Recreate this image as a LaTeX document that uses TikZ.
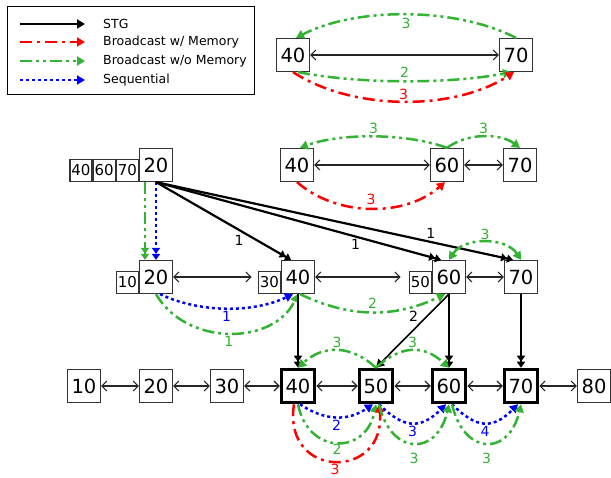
\documentclass[tikz,border=0pt]{standalone}
\usepackage{fontspec}
\setmainfont{DejaVu Sans}
\usepackage{xcolor}
\usetikzlibrary{arrows.meta,positioning}
\definecolor{bgreen}{RGB}{51,178,51}

\begin{document}
\begin{tikzpicture}[x=1pt, y=-1pt, >={Triangle[length=8pt,width=9pt]},
  box/.style={draw=black!80, line width=1.2pt, minimum size=33pt, inner sep=0pt, font=\fontsize{19.5}{19.5}\selectfont},
  sbox/.style={draw=black!80, line width=1.2pt, minimum size=22pt, inner sep=0pt, font=\fontsize{15}{15}\selectfont},
  hot/.style={box, draw=black, line width=3.5pt},
  link/.style={{Straight Barb[length=5pt,width=10pt]}-{Straight Barb[length=5pt,width=10pt]}, line width=1.1pt, black!85},
  stg/.style={line width=2.2pt, ->},
  twin/.style={-{Triangle[length=6pt,width=8pt]Triangle[length=6pt,width=8pt]}},
  mem/.style={red, line width=2.5pt, dash pattern=on 12pt off 5pt on 3pt off 5pt, ->},
  nomem/.style={bgreen, line width=2.5pt, dash pattern=on 12pt off 4pt on 3pt off 4pt on 3pt off 4pt, ->},
  seq/.style={blue, line width=2.5pt, dash pattern=on 3pt off 3pt, ->},
  lbl/.style={font=\fontsize{14}{14}\selectfont, inner sep=2pt},
  key/.style={font=\fontsize{12.5}{12.5}\selectfont, anchor=west, inner sep=0pt}]
\useasboundingbox (0,0) rectangle (611,478);

% legend
\draw[line width=1pt] (7,7) rectangle (254,95);
\coordinate (k1a) at (20,24); \coordinate (k1b) at (85,24);
\coordinate (k2a) at (20,42); \coordinate (k2b) at (85,42);
\coordinate (k3a) at (20,61); \coordinate (k3b) at (85,61);
\coordinate (k4a) at (20,80); \coordinate (k4b) at (85,80);
\draw[stg] (k1a) -- (k1b); \draw[mem] (k2a) -- (k2b);
\draw[nomem] (k3a) -- (k3b); \draw[seq] (k4a) -- (k4b);
\node[key] (kstg) at (103,24) {STG};
\node[key] (kmem) at (103,42) {Broadcast w/ Memory};
\node[key] (knomem) at (103,61) {Broadcast w/o Memory};
\node[key] (kseq) at (103,80) {Sequential};

% 40 -- 70
\node[box] (a40) at (293,55) {40};
\node[box] (a70) at (516,55) {70};
\draw[link] (a40) -- (a70);
\draw[nomem] (a70.north) .. controls +(-60,-31) and +(60,-31) .. ([xshift=3]a40.north) node[lbl, midway, below] {3};
\draw[nomem] ([xshift=5]a40.south) .. controls +(60,12) and +(-60,12) .. ([xshift=-5]a70.south) node[lbl, midway, above] {2};
\draw[mem] (a40.south) .. controls +(60,39) and +(-60,39) .. ([xshift=-2]a70.south) node[lbl, midway, above, inner sep=0.5pt] {3};

% 40 -- 60 -- 70
\node[box] (c40) at (297,165) {40};
\node[box] (c60) at (447,165) {60};
\node[box] (c70) at (520,165) {70};
\draw[link] (c40) -- (c60); \draw[link] (c60) -- (c70);
\draw[nomem] (c60.north) .. controls +(-40,-15) and +(40,-15) .. ([xshift=3]c40.north) node[lbl, midway, above] {3};
\draw[nomem] (c60.north) .. controls +(20,-15) and +(-20,-15) .. (c70.north) node[lbl, midway, above] {3};
\draw[mem] (c40.south) .. controls +(40,35) and +(-40,35) .. ([xshift=-2]c60.south) node[lbl, midway, above] {3};

% source with queue
\node[box] (s20) at (156,165) {20};
\node[sbox, anchor=south east] (s70) at (s20.south west) {70};
\node[sbox, anchor=south east] (s60) at (s70.south west) {60};
\node[sbox, anchor=south east] (s40) at (s60.south west) {40};

% middle row
\node[box] (m20) at (156,277) {20};
\node[sbox, anchor=south east] (m10) at (m20.south west) {10};
\node[box] (m40) at (298,277) {40};
\node[sbox, anchor=south east] (m30) at (m40.south west) {30};
\node[box] (m60) at (449,277) {60};
\node[sbox, anchor=south east] (m50) at (m60.south west) {50};
\node[box] (m70) at (521,277) {70};
\draw[link, shorten >=6pt] (m20.east) -- (m20.east -| m30.west);
\draw[link, shorten >=8pt] (m40.east) -- (m40.east -| m50.west);
\draw[link] (m60) -- (m70);

\draw[nomem, twin] ([xshift=-11]s20.south) -- ([xshift=-11]m20.north);
\draw[seq, twin] (s20.south) -- (m20.north);
\draw[stg, twin] (s20.south) -- ([xshift=-7]m40.north) node[lbl, pos=0.66, below left, inner sep=0.5pt] {1};
\draw[stg, twin] (s20.south) -- ([xshift=-8]m60.north) node[lbl, pos=0.7, below] {1};
\draw[stg, twin] (s20.south) -- ([xshift=-8]m70.north) node[lbl, pos=0.77, above] {1};

\draw[nomem, <->] (m60.north) .. controls +(15,-23) and +(-15,-23) .. (m70.north) node[lbl, midway, above] {3};
\draw[seq] ([xshift=4]m20.south) .. controls +(40,19) and +(-40,19) .. ([xshift=-5]m40.south) node[lbl, midway, below] {1};
\draw[nomem] (m20.south) .. controls +(30,52) and +(-25,52) .. (m40.south) node[lbl, midway, below] {1};
\draw[nomem] ([xshift=2]m40.south) .. controls +(50,24) and +(-50,24) .. ([xshift=-4]m60.south) node[lbl, midway, above] {2};

% bottom row
\node[box] (b10) at (84,386) {10};
\node[box] (b20) at (156,386) {20};
\node[box] (b30) at (227,386) {30};
\node[hot] (b40) at (298,386) {40};
\node[hot] (b50) at (376,386) {50};
\node[hot] (b60) at (449,386) {60};
\node[hot] (b70) at (521,386) {70};
\node[box] (b80) at (594,386) {80};
\draw[link] (b10) -- (b20); \draw[link] (b20) -- (b30); \draw[link] (b30) -- (b40);
\draw[link] (b40) -- (b50); \draw[link] (b50) -- (b60); \draw[link] (b60) -- (b70);
\draw[link] (b70) -- (b80);

\draw[stg, twin] (m40) -- (b40); \draw[stg, twin] (m60) -- (b60); \draw[stg, twin] (m70) -- (b70);
\draw[stg, line width=1.6pt] (m60.south) -- (b50.north) node[lbl, pos=0.4, above left, inner sep=1pt] {2};

\draw[nomem] (b50.north) .. controls +(-25,-23) and +(25,-23) .. (b40.north) node[lbl, midway, above] {3};
\draw[nomem] (b50.north) .. controls +(25,-23) and +(-25,-23) .. (b60.north) node[lbl, midway, above] {3};

\draw[seq] ([xshift=2]b40.south) .. controls +(25,17) and +(-25,17) .. ([xshift=-3]b50.south) node[lbl, midway, below] {2};
\draw[nomem] (b40.south) .. controls +(10,51) and +(-10,51) .. (b50.south) node[lbl, midway, below, inner sep=0pt] {2};
\draw[mem] ([xshift=-4]b40.south) .. controls +(-12,76) and +(8,76) .. ([xshift=3]b50.south) node[lbl, midway, below] {3};
\draw[seq] ([xshift=3]b50.south) .. controls +(25,25) and +(-25,25) .. ([xshift=-3]b60.south) node[lbl, midway, below] {3};
\draw[nomem] ([xshift=3]b50.south) .. controls +(12,52) and +(-12,52) .. (b60.south) node[lbl, midway, below=7pt] {3};
\draw[seq] ([xshift=3]b60.south) .. controls +(25,25) and +(-25,25) .. ([xshift=-3]b70.south) node[lbl, midway, below] {4};
\draw[nomem] ([xshift=3]b60.south) .. controls +(12,52) and +(-12,52) .. (b70.south) node[lbl, midway, below=7pt] {3};
\end{tikzpicture}
\end{document}
